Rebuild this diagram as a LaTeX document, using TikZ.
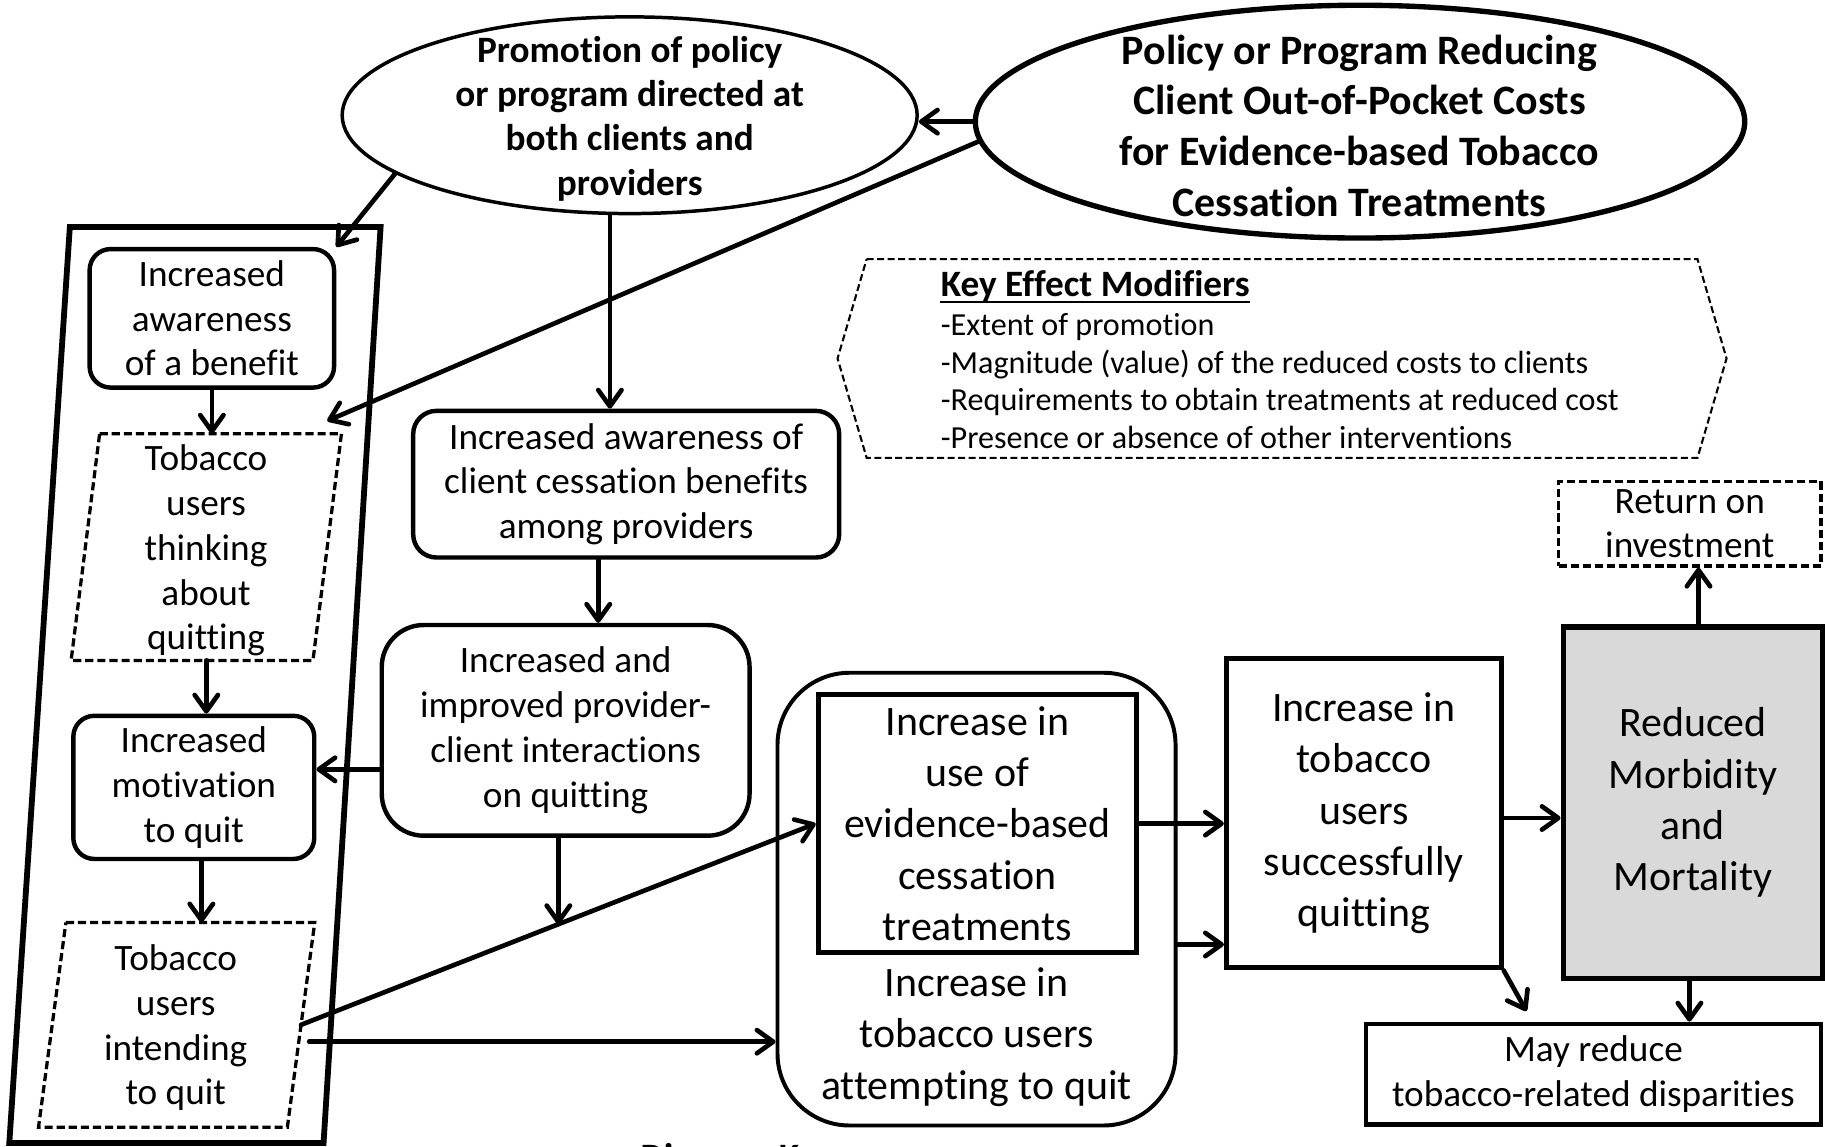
\documentclass[tikz,border=0pt]{standalone}
\usepackage{fontspec}
\setmainfont{Carlito}[Ligatures={NoCommon}]
\usetikzlibrary{arrows.meta,calc,shapes.geometric}
\definecolor{boxgray}{RGB}{217,217,217}
\newcommand{\fntA}{\fontsize{16}{19.25}\selectfont}
\newcommand{\fntB}{\fontsize{18}{22}\selectfont}
\newcommand{\fntC}{\fontsize{16}{19}\selectfont\bfseries}
\newcommand{\fntD}{\fontsize{18}{21.7}\selectfont\bfseries}
\newcommand{\fntE}{\fontsize{13.8}{16.5}\selectfont}
\begin{document}
\begin{tikzpicture}[x=0.5pt,y=-0.5pt,
  arr/.style={line width=2pt, line cap=round, -{Straight Barb[length=7pt,width=10pt,round]}},
  rbox/.style={draw, line width=1.9pt, rounded corners=9pt, inner sep=0pt, align=center, font=\fntA},
  sbox/.style={draw, line width=2.2pt, inner sep=0pt, align=center, font=\fntB},
  dbox/.style={draw, line width=1.4pt, dash pattern=on 3.5pt off 1.7pt, inner sep=0pt, align=center, font=\fntA},
  ptext/.style={inner sep=0pt, align=center, font=\fntA},
  para/.style={line width=1.4pt, dash pattern=on 3.5pt off 1.7pt, line join=miter},
]
\useasboundingbox (0,0) rectangle (1568,985);
\clip (0,0) rectangle (1568,985);

% ellipses
\node[ellipse, draw, line width=1.5pt, minimum width=247pt, minimum height=84.5pt, inner sep=0pt] (promo) at (541,99) {};
\node[font=\fntC, align=center, inner sep=0pt] (promoT) at (541,102) {Promotion of policy\\or program directed at\\both clients and\\providers};
\node[ellipse, draw, line width=2.3pt, minimum width=330.5pt, minimum height=100pt, inner sep=0pt] (policy) at (1168.5,104.5) {};
\node[font=\fntD, align=center, inner sep=0pt] (policyT) at (1168,108) {Policy or Program Reducing\\Client Out-of-Pocket Costs\\for Evidence-based Tobacco\\Cessation Treatments};

% left frame
\draw[line width=2.5pt, line join=miter] (60,195) -- (327,195) -- (278,982) -- (8,982) -- cycle;

\node[rbox, minimum width=105pt, minimum height=59.5pt] (aware) at (182,273.5) {Increased\\awareness\\of a benefit};
\node[ptext, minimum width=103.5pt, minimum height=97pt] (think) at (177.25,470) {};
\node[ptext] (thinkT) at (177,473) {Tobacco\\users\\thinking\\about\\quitting};
\draw[para] ($(think.north west)+(12.25,0)$) -- ($(think.north east)+(12.25,0)$) -- ($(think.south east)+(-12.25,0)$) -- ($(think.south west)+(-12.25,0)$) -- cycle;
\node[rbox, minimum width=103.5pt, minimum height=61.5pt] (motiv) at (166.5,676.5) {Increased\\motivation\\to quit};
\node[ptext, minimum width=106.5pt, minimum height=87.5pt] (intend) at (151.75,880.5) {};
\node[ptext] (intendT) at (151,883) {Tobacco\\users\\intending\\to quit};
\draw[para] ($(intend.north west)+(11.75,0)$) -- ($(intend.north east)+(11.75,0)$) -- ($(intend.south east)+(-11.75,0)$) -- ($(intend.south west)+(-11.75,0)$) -- cycle;

% middle column
\node[rbox, rounded corners=10pt, minimum width=183pt, minimum height=63pt] (provAware) at (538,416) {Increased awareness of\\client cessation benefits\\among providers};
\node[rbox, rounded corners=18pt, minimum width=158pt, minimum height=90.5pt] (interact) at (486,627.5) {Increased and\\improved provider-\\client interactions\\on quitting};

\node[draw, line width=1.7pt, rounded corners=31pt, minimum width=171pt, minimum height=194.5pt, inner sep=0pt] (bigbox) at (839,772.5) {};
\node[sbox, minimum width=136.75pt, minimum height=111pt] (useRect) at (839.75,707.6) {Increase in\\use of\\evidence-based\\cessation\\treatments};
\node[font=\fntB, align=center, inner sep=0pt] (attempt) at (839,891) {Increase in\\tobacco users\\attempting to quit};

\node[sbox, minimum width=118pt, minimum height=132.8pt] (success) at (1171.75,698.8) {Increase in\\tobacco\\users\\successfully\\quitting};
\node[sbox, fill=boxgray, minimum width=111.5pt, minimum height=150.9pt] (reduced) at (1454.5,689.6) {Reduced\\Morbidity\\and\\Mortality};
\node[dbox, minimum width=112.75pt, minimum height=36.35pt] (roi) at (1451.8,450) {Return on\\investment};
\node[draw, line width=2pt, inner sep=0pt, align=center, font=\fntA, minimum width=195.5pt, minimum height=43.25pt] (disp) at (1369,923) {May reduce\\tobacco-related disparities};

% key effect modifiers
\node[minimum width=356.5pt, minimum height=85pt, inner sep=0pt] (keymod) at (1101.5,308) {};
\draw[line width=0.9pt, dash pattern=on 3pt off 1.5pt] (keymod.north west) -- (keymod.north east) -- ($(keymod.east)+(25,0)$) -- (keymod.south east) -- (keymod.south west) -- ($(keymod.west)+(-25,0)$) -- cycle;
\node[anchor=base west, font=\fntC, inner sep=0pt] (kmH) at (808,255) {Key Effect Modifiers};
\draw[line width=0.9pt] ([yshift=-2.2pt]kmH.base west) -- ([yshift=-2.2pt]kmH.base east);
\node[anchor=base west, font=\fntE, inner sep=0pt] (km1) at (808,288) {-Extent of promotion};
\node[anchor=base west, font=\fntE, inner sep=0pt] (km2) at (808,320.5) {-Magnitude (value) of the reduced costs to clients};
\node[anchor=base west, font=\fntE, inner sep=0pt] (km3) at (808,353) {-Requirements to obtain treatments at reduced cost};
\node[anchor=base west, font=\fntE, inner sep=0pt] (km4) at (808,385.5) {-Presence or absence of other interventions};

\node[anchor=base west, font=\fntC, inner sep=0pt] (dkey) at (550,1004.5) {Diagram Key};

% connectors
\draw[arr] (policy.west) -- (policy.west -| promo.east);
\draw[arr] (policy.183) -- ($(think.north east)+(0,-11)$);
\draw[arr] (promo.194) -- (aware.north east);
\draw[arr] ([xshift=-8.5pt]promo.south) -- ([xshift=-7pt]provAware.north);
\draw[arr] (aware.south) -- (aware.south |- think.north);
\draw[arr] (think.south) -- (think.south |- motiv.north);
\draw[arr] ([xshift=3.25pt]motiv.south) -- ([xshift=3.25pt]motiv.south |- intend.north);
\draw[arr] ([yshift=-16.75pt]interact.west) -- ([yshift=-16.75pt]interact.west -| motiv.east);
\draw[arr] ([xshift=-12pt]provAware.south) -- ([xshift=-12pt]provAware.south |- interact.north);
\draw[arr] (intend.east) -- coordinate[pos=0.5] (mid) (useRect.west);
\draw[arr] (interact.south -| mid) -- (mid);
\draw[arr] ($(intend.east)+(7,14.5)$) coordinate (iS) -- (iS -| bigbox.west);
\draw[arr] (useRect.east) -- (useRect.east -| success.west);
\draw[arr] ([yshift=-19.5pt]bigbox.east) -- ([yshift=-19.5pt]bigbox.east -| success.west);
\draw[arr] ([yshift=-2pt]success.east) -- ([yshift=-2pt]success.east -| reduced.west);
\draw[arr] (success.south east) -- ($(disp.north west)+(140,-9)$);
\draw[arr] ([xshift=2.4pt]reduced.north) -- ([xshift=2.4pt]reduced.north |- roi.south);
\draw[arr] ([xshift=-1.5pt]reduced.south) -- ([xshift=-1.5pt]reduced.south |- disp.north);
\end{tikzpicture}
\end{document}
